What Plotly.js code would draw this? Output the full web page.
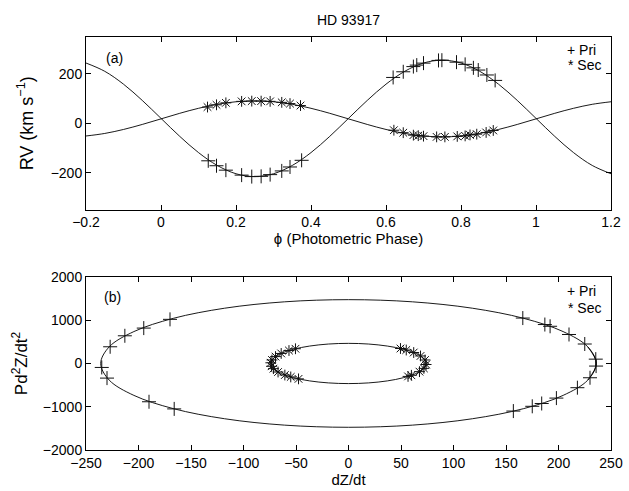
<!DOCTYPE html>
<html>
<head>
<meta charset="utf-8">
<script src="https://cdn.plot.ly/plotly-3.0.1.min.js"></script>
<style>html,body{margin:0;padding:0;background:#fff;}#chart{width:629px;height:491px;}</style>
</head>
<body>
<div id="chart"></div>
<script>
// ---- Panel (a): model RV curves sampled every 0.05 in phase ----
const phaseGrid = [-0.2,-0.15,-0.1,-0.05,0,0.05,0.1,0.15,0.2,0.25,0.3,0.35,0.4,0.45,0.5,0.55,0.6,0.65,0.7,0.75,0.8,0.85,0.9,0.95,1.0,1.05,1.1,1.15,1.2];
const priCurve = [244.5,210.9,158.7,92.9,20,-52.9,-118.7,-170.9,-204.5,-216,-204.5,-170.9,-118.7,-52.9,20,92.9,158.7,210.9,244.5,256,244.5,210.9,158.7,92.9,20,-52.9,-118.7,-170.9,-204.5];
const secCurve = [-51.4,-41.1,-24.9,-4.6,18,40.6,60.9,77.1,87.4,91,87.4,77.1,60.9,40.6,18,-4.6,-24.9,-41.1,-51.4,-55,-51.4,-41.1,-24.9,-4.6,18,40.6,60.9,77.1,87.4];

// ---- Panel (a): observed RVs ----
const priPhase = [0.126,0.148,0.173,0.215,0.242,0.267,0.291,0.322,0.344,0.375,0.619,0.646,0.673,0.682,0.700,0.740,0.749,0.788,0.811,0.833,0.846,0.869,0.891];
const priRV = [-152,-172,-190,-210,-216,-215,-208,-193,-177,-150,186,209,230,236,244,255,256,248,239,225,216,196,174];
const secPhase = [0.124,0.148,0.173,0.215,0.242,0.267,0.291,0.322,0.344,0.372,0.621,0.646,0.673,0.686,0.700,0.735,0.757,0.790,0.811,0.824,0.842,0.867,0.886];
const secRV = [66,75,83,89,90,90,89,85,80,72,-28,-38,-48,-50,-52,-55,-55,-53,-51,-47,-44,-37,-29];

// ---- Panel (b): model phase-space ellipses (every 15 deg, overlapping ends) ----
const outerX = [228,236,228,204.4,166.9,118,61.1,0,-61.1,-118,-166.9,-204.4,-228,-236,-228,-204.4,-166.9,-118,-61.1,0,61.1,118,166.9,204.4,228,236,228];
const outerY = [-381.8,0,381.8,737.5,1043,1277.4,1424.8,1475,1424.8,1277.4,1043,737.5,381.8,0,-381.8,-737.5,-1043,-1277.4,-1424.8,-1475,-1424.8,-1277.4,-1043,-737.5,-381.8,0,381.8];
const innerX = [71.5,74,71.5,64.1,52.3,37,19.2,0,-19.2,-37,-52.3,-64.1,-71.5,-74,-71.5,-64.1,-52.3,-37,-19.2,0,19.2,37,52.3,64.1,71.5,74,71.5];
const innerY = [-120.3,0,120.3,232.5,328.8,402.7,449.1,465,449.1,402.7,328.8,232.5,120.3,0,-120.3,-232.5,-328.8,-402.7,-449.1,-465,-449.1,-402.7,-328.8,-232.5,-120.3,0,120.3];

// ---- Panel (b): observed points ----
const priDZ = [-170,-195,-213,-227,-235,-230,-190,-166,166,187,192,210,225,235.5,235.8,230,218,198,184,175,157];
const priD2Z = [1020,818,640,386,-92,-338,-885,-1050,1050,900,860,670,450,100,-60,-330,-560,-800,-925,-990,-1100];
const secDZ = [-50.5,-56.7,-64.1,-69.5,-72.9,-74,-73.3,-71.5,-67.1,-60.6,-55,-47.6,49.5,55,62.1,68.6,72.9,73.9,71.8,67.6,59.9,56.7];
const secD2Z = [340,299,232,159,81,16,-65,-120,-197,-267,-311,-356,346,311,253,174,81,-24,-113,-189,-273,-299];

const FONT = 'Liberation Sans, Arial, Helvetica, sans-serif';
const lineStyle = {color:'#000', width:0.9, shape:'spline'};
const plusMarker = {symbol:'cross-thin', size:10, color:'#000', line:{width:1, color:'#111'}};
const starMarker = {symbol:'asterisk', size:9, color:'#000', line:{width:1, color:'#111'}};

const traces = [
  {x:phaseGrid, y:priCurve, mode:'lines', line:lineStyle, xaxis:'x', yaxis:'y', hoverinfo:'skip'},
  {x:phaseGrid, y:secCurve, mode:'lines', line:lineStyle, xaxis:'x', yaxis:'y', hoverinfo:'skip'},
  {x:priPhase, y:priRV, mode:'markers', marker:plusMarker, xaxis:'x', yaxis:'y'},
  {x:secPhase, y:secRV, mode:'markers', marker:starMarker, xaxis:'x', yaxis:'y'},
  {x:outerX, y:outerY, mode:'lines', line:lineStyle, xaxis:'x2', yaxis:'y2', hoverinfo:'skip'},
  {x:innerX, y:innerY, mode:'lines', line:lineStyle, xaxis:'x2', yaxis:'y2', hoverinfo:'skip'},
  {x:priDZ, y:priD2Z, mode:'markers', marker:plusMarker, xaxis:'x2', yaxis:'y2'},
  {x:secDZ, y:secD2Z, mode:'markers', marker:starMarker, xaxis:'x2', yaxis:'y2'}
];

const axBase = {
  showline:true, linecolor:'#000', linewidth:1, mirror:'allticks',
  ticks:'inside', ticklen:5, tickwidth:1, tickcolor:'#000',
  showgrid:false, zeroline:false,
  tickfont:{family:FONT, size:14, color:'#000'}
};

const layout = {
  width:629, height:491,
  margin:{l:86, r:18, t:37, b:41},
  paper_bgcolor:'#fff', plot_bgcolor:'#fff',
  showlegend:false,
  font:{family:FONT, color:'#000'},
  title:{text:'HD 93917', x:0.5, xref:'paper', y:0.96, yref:'container', yanchor:'middle', font:{family:FONT, size:14, color:'#000'}},
  xaxis:Object.assign({}, axBase, {domain:[0,1], anchor:'y', range:[-0.2,1.2], tick0:0, dtick:0.2,
    title:{text:'ϕ (Photometric Phase)', standoff:3, font:{family:FONT, size:15, color:'#000'}}}),
  yaxis:Object.assign({}, axBase, {domain:[0.582,1], anchor:'x', range:[-350,350], tick0:0, dtick:200,
    title:{text:'RV (km s<sup>−1</sup>)', standoff:12, font:{family:FONT, size:18, color:'#000'}}}),
  xaxis2:Object.assign({}, axBase, {domain:[0,1], anchor:'y2', range:[-250,250], tick0:0, dtick:50,
    title:{text:'dZ/dt', standoff:3, font:{family:FONT, size:15, color:'#000'}}}),
  yaxis2:Object.assign({}, axBase, {domain:[0,0.419], anchor:'x2', range:[-2000,2000], tick0:0, dtick:1000,
    title:{text:'Pd<sup>2</sup>Z/dt<sup>2</sup>', standoff:10, font:{family:FONT, size:17, color:'#000'}}}),
  annotations:[
    {text:'(a)', xref:'paper', yref:'paper', x:0.055, y:0.949, xanchor:'center', yanchor:'middle', showarrow:false, font:{family:FONT, size:14, color:'#000'}},
    {text:'(b)', xref:'paper', yref:'paper', x:0.05, y:0.370, xanchor:'center', yanchor:'middle', showarrow:false, font:{family:FONT, size:14, color:'#000'}},
    {text:'+ Pri', xref:'paper', yref:'paper', x:0.975, y:0.969, xanchor:'right', yanchor:'middle', showarrow:false, font:{family:FONT, size:14, color:'#000'}},
    {text:'* Sec', xref:'paper', yref:'paper', x:0.985, y:0.933, xanchor:'right', yanchor:'middle', showarrow:false, font:{family:FONT, size:14, color:'#000'}},
    {text:'+ Pri', xref:'paper', yref:'paper', x:0.975, y:0.385, xanchor:'right', yanchor:'middle', showarrow:false, font:{family:FONT, size:14, color:'#000'}},
    {text:'* Sec', xref:'paper', yref:'paper', x:0.985, y:0.344, xanchor:'right', yanchor:'middle', showarrow:false, font:{family:FONT, size:14, color:'#000'}}
  ]
};

Plotly.newPlot('chart', traces, layout, {displayModeBar:false, staticPlot:true});
</script>
</body>
</html>
